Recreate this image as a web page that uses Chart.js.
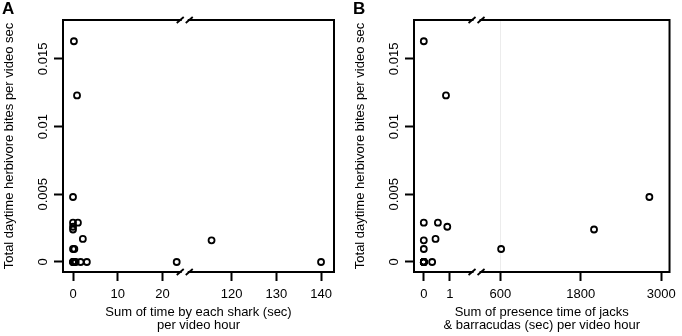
<!DOCTYPE html>
<html>
<head>
<meta charset="utf-8">
<script src="https://cdn.jsdelivr.net/npm/chart.js@4.4.1/dist/chart.umd.min.js"></script>
<style>
body{margin:0;background:#fff;width:682px;height:336px;position:relative;overflow:hidden}
.panel{position:absolute;top:0;width:341px;height:336px}
</style>
</head>
<body>
<div class="panel" style="left:0"><canvas id="chartA" width="341" height="336"></canvas></div>
<div class="panel" style="left:341px"><canvas id="chartB" width="341" height="336"></canvas></div>
<script>
// bites per video sec, same sites in both panels
var bites     = [0.0163, 0.0123, 0.0048, 0.0029, 0.0029, 0.0026, 0.0024, 0.0017, 0.0016, 0.00096, 0.00096, 0, 0, 0, 0, 0, 0, 0, 0, 0];
// shark time (sec) per video hour
var sharkTime = [0.2, 0.9, 0, 0, 1.1, 0, 0, 2.2, 115.5, 0, 0.3, 0, 0.3, 0.6, 1.7, 3.1, 23.2, 140, 0.1, 0];
// jacks & barracudas time (sec) per video hour
var jackTime  = [0, 0.85, 2822, 0, 0.54, 0.9, 1997, 0.45, 0, 0, 612, 0, 0, 0, 0, 0.32, 0, 0, 0, 0];

var yTicks = [0, 0.005, 0.01, 0.015];
var yTickLabels = ["0", "0.005", "0.01", "0.015"];
var sharkTicks = [0, 10, 20, 120, 130, 140];
var jackTicks = [0, 1, 600, 1800, 3000];

var FONT = "'Liberation Sans', Arial, sans-serif";
Chart.defaults.font.family = FONT;
Chart.defaults.font.size = 13;
Chart.defaults.color = "#000";

// broken axes: map a real value onto the drawn axis
function sharkAxis(v){ return v <= 25 ? v : v - 84.5; }
function jackAxis(v){ return v <= 1.5 ? v : 2.93 + (v - 600) * 0.002569; }

var framePlugin = {
  id: "frame",
  afterDraw: function(chart){
    var c = chart.ctx, a = chart.chartArea, o = chart.options.plugins.frame;
    var ys = chart.scales.y, xs = chart.scales.x;
    c.save();
    c.strokeStyle = "#000";
    c.lineWidth = 2;
    c.strokeRect(a.left, a.top, a.right - a.left, a.bottom - a.top);
    // y tick labels, rotated like R
    c.fillStyle = "#000";
    c.font = "13px " + FONT;
    c.textAlign = "center";
    c.textBaseline = "middle";
    yTicks.forEach(function(v, i){
      c.save();
      c.translate(a.left - 20, ys.getPixelForValue(v));
      c.rotate(-Math.PI / 2);
      c.fillText(yTickLabels[i], 0, 0);
      c.restore();
    });
    // break marks on top and bottom border
    var px = xs.getPixelForValue(o.breakAt);
    [a.top, a.bottom].forEach(function(y){
      c.fillStyle = "#fff";
      c.fillRect(px - 3, y - 2, 6, 4);
      c.lineWidth = 1.8;
      c.beginPath();
      c.moveTo(px - 8, y + 3); c.lineTo(px - 1, y - 3);
      c.moveTo(px + 1, y + 3); c.lineTo(px + 8, y - 3);
      c.stroke();
    });
    // panel letter
    c.fillStyle = "#000";
    c.font = "bold 17px " + FONT;
    c.textAlign = "left";
    c.textBaseline = "top";
    c.fillText(o.letter, o.letterX, 1);
    c.restore();
  }
};

function makeChart(id, xs, toAxis, ticks, opts){
  var pts = xs.map(function(v, i){ return {x: toAxis(v), y: bites[i]}; });
  var tickPos = ticks.map(toAxis);
  return new Chart(document.getElementById(id), {
    type: "scatter",
    data: {datasets: [{
      data: pts,
      pointStyle: "circle",
      pointRadius: 3,
      pointBorderWidth: 1.8,
      borderColor: "#000",
      backgroundColor: "rgba(0,0,0,0)"
    }]},
    options: {
      responsive: false,
      animation: false,
      events: [],
      layout: {padding: {top: 20, right: 7, left: 0, bottom: 0}},
      plugins: {
        legend: {display: false},
        tooltip: {enabled: false},
        frame: {breakAt: opts.breakAt, letter: opts.letter, letterX: opts.letterX}
      },
      scales: {
        x: {
          type: "linear",
          min: opts.xmin, max: opts.xmax,
          afterFit: function(s){ s.height = 64; },
          afterBuildTicks: function(s){ s.ticks = tickPos.map(function(v){ return {value: v}; }); },
          ticks: {
            autoSkip: false, maxRotation: 0, padding: 6,
            font: {size: 13, lineHeight: 1.2},
            callback: function(v, i){ return String(ticks[i]); }
          },
          grid: {
            drawOnChartArea: !!opts.faint,
            color: function(ctx){ return (opts.faint && ctx.tick && ctx.tick.value === tickPos[2]) ? "#ececec" : "rgba(0,0,0,0)"; },
            lineWidth: 1,
            tickLength: 9, tickWidth: 2, tickColor: "#000"
          },
          border: {display: false},
          title: {display: true, text: opts.xTitle, color: "#000", font: {size: 13, lineHeight: 1.05}, padding: {top: 0, bottom: 3.5}}
        },
        y: {
          type: "linear",
          min: -0.00074, max: 0.01787,
          afterFit: function(s){ s.width = opts.yWidth; },
          afterBuildTicks: function(s){ s.ticks = yTicks.map(function(v){ return {value: v}; }); },
          ticks: {display: false},
          grid: {drawOnChartArea: false, tickLength: 9, tickWidth: 2, tickColor: "#000"},
          border: {display: false},
          title: {display: true, text: "Total daytime herbivore bites per video sec", color: "#000", font: {size: 13, lineHeight: 1.15}, padding: {top: opts.yTitlePad, bottom: 0}}
        }
      }
    },
    plugins: [framePlugin]
  });
}

makeChart("chartA", sharkTime, sharkAxis, sharkTicks, {
  xmin: -2.24, xmax: 58.4, breakAt: 25, yWidth: 63, yTitlePad: 2,
  letter: "A", letterX: 2,
  xTitle: ["Sum of time by each shark (sec)", "per video hour"]
});
makeChart("chartB", jackTime, jackAxis, jackTicks, {
  xmin: -0.375, xmax: 9.41, breakAt: 2.02, yWidth: 73, yTitlePad: 11.5,
  letter: "B", letterX: 12, faint: true,
  xTitle: ["Sum of presence time of jacks", "& barracudas (sec) per video hour"]
});
</script>
</body>
</html>
